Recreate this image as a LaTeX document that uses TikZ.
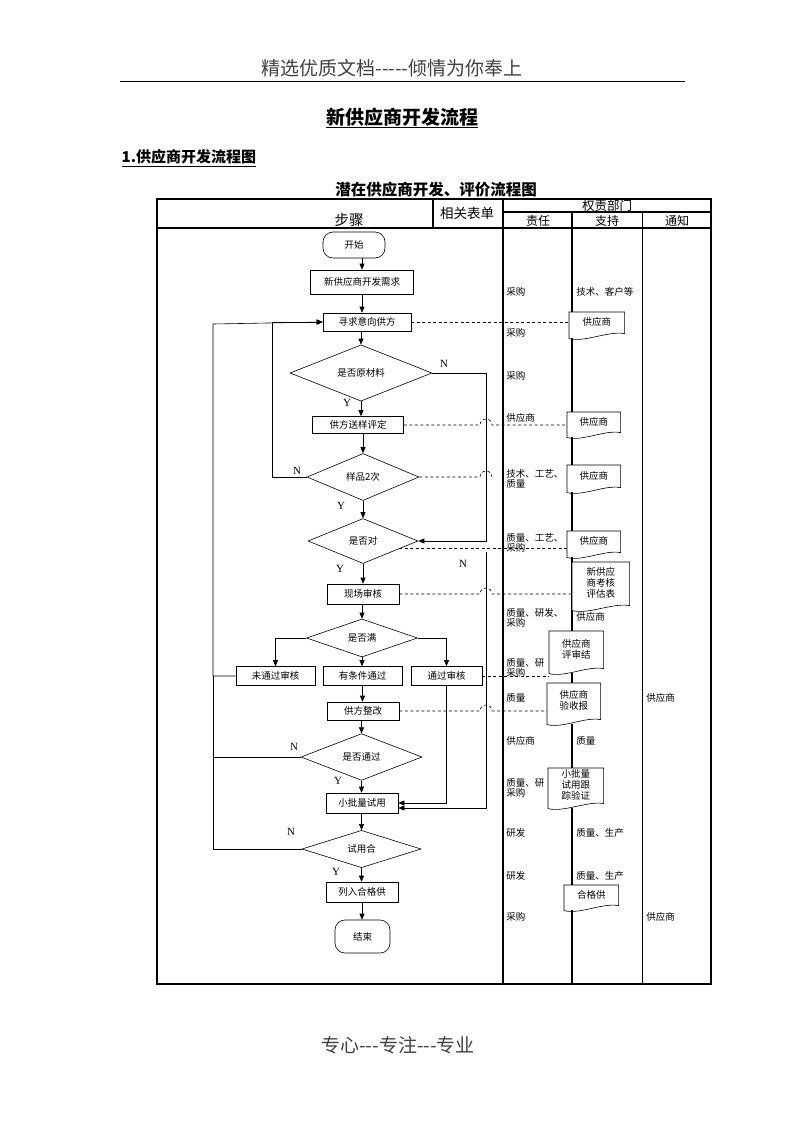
\documentclass[tikz,border=0pt]{standalone}
\usepackage{fontspec}
\setmainfont{Noto Sans CJK SC}
\newfontfamily\ynfont{Liberation Serif}
\usetikzlibrary{shapes.geometric,arrows.meta}

\tikzset{
	frame/.style={line width=1.5pt},
	thin frame/.style={line width=0.8pt},
	box/.style={draw,fill=white,inner sep=0pt,font=\fontsize{9.5}{11}\selectfont},
	decide/.style={draw,diamond,inner sep=0pt,font=\fontsize{9.5}{11}\selectfont},
	term/.style={draw,rounded corners=10pt,inner sep=0pt,font=\fontsize{9.5}{11}\selectfont},
	flow/.style={-{Triangle[length=6pt,width=5pt]}},
	link/.style={dash pattern=on 3pt off 2.5pt},
	yn/.style={inner sep=0pt,font=\ynfont\fontsize{11}{11}\selectfont},
	duty/.style={anchor=west,align=left,inner sep=0pt,font=\fontsize{9.5}{10.5}\selectfont},
	doc/.style={anchor=north west,fill=white,inner sep=0pt},
	doctext/.style={align=center,inner sep=0pt,font=\fontsize{9.5}{11}\selectfont},
	head/.style={inner sep=0pt,font=\fontsize{12.5}{13}\selectfont},
}

% document shape: name, left, top, width, height, text
\newcommand{\docbox}[6]{%
	\node[doc,minimum width=#4pt,minimum height=#5pt] (#1) at (#2,#3) {};
	\draw (#1.south west) -- (#1.north west) -- (#1.north east) -- ([yshift=5pt]#1.south east)
		.. controls +(-0.3*#4,-3) and +(0.3*#4,4) .. (#1.south west);
	\node[doctext] (#1t) at ([yshift=3pt]#1.center) {#6};
}

\begin{document}
\begin{tikzpicture}[x=1pt,y=-1pt,line width=0.6pt]
	\useasboundingbox (0,0) rectangle (793,1122);

	\node[text=darkgray,font=\fontsize{19}{19}\selectfont] (pagehead) at (392,68) {精选优质文档-{}-{}-{}-{}-倾情为你奉上};
	\draw[line width=0.9pt] (120,81) -- (685,81);
	\node[font=\bfseries\fontsize{19}{19}\selectfont] (title) at (402,118) {\underline{新供应商开发流程}};
	\node[anchor=west,font=\bfseries\fontsize{15}{15}\selectfont] (subtitle) at (118,158) {\underline{1.供应商开发流程图}};
	\node[font=\bfseries\fontsize{15.5}{16}\selectfont,inner sep=0pt] (charttitle) at (436,190) {潜在供应商开发、评价流程图};

	% table
	\draw[frame] (157,199) rectangle (711,984);
	\draw[frame] (157,228) -- (711,228);
	\draw[frame] (503,212) -- (711,212);
	\draw[frame] (433,199) -- (433,228);
	\draw[frame] (503,199) -- (503,984);
	\draw[frame] (572,212) -- (572,984);
	\draw[thin frame] (642,212) -- (642,984);
	\node[head,font=\fontsize{14.5}{15}\selectfont] (steps) at (349,220) {步骤};
	\node[head,font=\fontsize{13.5}{14}\selectfont] (forms) at (467,213) {相关表单};
	\node[head] (dept) at (607,205.5) {权责部门};
	\node[head,font=\fontsize{12}{12}\selectfont] (resp) at (538,221) {责任};
	\node[head,font=\fontsize{12}{12}\selectfont] (supp) at (607,221) {支持};
	\node[head,font=\fontsize{12}{12}\selectfont] (info) at (677,221) {通知};

	% departments
	\node[duty] (r1) at (506,292) {采购};
	\node[duty] (r2) at (506,333) {采购};
	\node[duty] (r3) at (506,376) {采购};
	\node[duty] (r4) at (506,418) {供应商};
	\node[duty] (r5) at (506,479) {技术、工艺、\\质量};
	\node[duty] (r6) at (506,543) {质量、工艺、\\采购};
	\node[duty] (r7) at (506,618) {质量、研发、\\采购};
	\node[duty] (r8) at (506,668) {质量、研\\采购};
	\node[duty] (r9) at (506,698) {质量};
	\node[duty] (r10) at (506,741) {供应商};
	\node[duty] (r11) at (506,788) {质量、研\\采购};
	\node[duty] (r12) at (506,833) {研发};
	\node[duty] (r13) at (506,876) {研发};
	\node[duty] (r14) at (506,917) {采购};
	\node[duty] (s1) at (576,292) {技术、客户等};
	\node[duty] (s2) at (576,617) {供应商};
	\node[duty] (s3) at (576,741) {质量};
	\node[duty] (s4) at (576,833) {质量、生产};
	\node[duty] (s5) at (576,876) {质量、生产};
	\node[duty] (n1) at (646,698) {供应商};
	\node[duty] (n2) at (646,917) {供应商};

	% forms
	\docbox{d1}{569}{312}{55}{26}{供应商}
	\docbox{d2}{567}{412}{53}{25}{供应商}
	\docbox{d3}{567}{465}{53}{27}{供应商}
	\docbox{d4}{567}{531}{53}{26}{供应商}
	\docbox{d5}{572}{562}{57}{48}{新供应\\商考核\\评估表}
	\docbox{d6}{549}{631}{54}{42}{供应商\\评审结}
	\docbox{d7}{547}{683}{53}{41}{供应商\\验收报}
	\docbox{d8}{548}{768}{55}{40}{小批量\\试用跟\\踪验证}
	\docbox{d9}{564}{885}{54}{25}{合格供}

	% steps
	\node[term,minimum width=62pt,minimum height=26pt] (start) at (354,245) {开始};
	\node[box,minimum width=103pt,minimum height=24pt] (need) at (362,282) {新供应商开发需求};
	\node[box,minimum width=88pt,minimum height=18pt] (seek) at (367,322) {寻求意向供方};
	\node[decide,minimum width=142pt,minimum height=42pt] (israw) at (361,373) {是否原材料};
	\node[box,minimum width=91pt,minimum height=17pt] (sample) at (358,425) {供方送样评定};
	\node[decide,minimum width=112pt,minimum height=47pt] (twice) at (363,477) {样品2次};
	\node[decide,minimum width=110pt,minimum height=45pt] (right) at (363,541) {是否对};
	\node[box,minimum width=72pt,minimum height=20pt] (site) at (363,594) {现场审核};
	\node[decide,minimum width=111pt,minimum height=38pt] (pass) at (362,638) {是否满};
	\node[box,minimum width=79pt,minimum height=19pt] (fail) at (275.5,676) {未通过审核};
	\node[box,minimum width=79pt,minimum height=19pt] (cond) at (362.5,676) {有条件通过};
	\node[box,minimum width=71pt,minimum height=19pt] (ok) at (446.5,676) {通过审核};
	\node[box,minimum width=72pt,minimum height=18pt] (fix) at (363,711) {供方整改};
	\node[decide,minimum width=121pt,minimum height=38pt] (passed) at (361.5,757) {是否通过};
	\node[box,minimum width=72pt,minimum height=20pt] (trial) at (362,803) {小批量试用};
	\node[decide,minimum width=119pt,minimum height=37pt] (trialok) at (361.5,849) {试用合};
	\node[box,minimum width=72pt,minimum height=20pt] (list) at (362,892) {列入合格供};
	\node[term,minimum width=55pt,minimum height=33pt] (finish) at (362.5,936.5) {结束};

	\coordinate (loopL) at (213,324);
	\coordinate (loopR) at (272,324);
	\coordinate (nline) at (486,373);
	\coordinate (rightN) at (486,552);
	\coordinate (hopx) at (480,0);

	\draw[flow] (start.south -| need) -- (need.north);
	\draw[flow] (need.south) -- (need.south |- seek.north);
	\draw[flow] (seek.south -| israw) -- (israw.north);
	\draw[flow] (israw.south) -- (israw.south |- sample.north);
	\draw[flow] (sample.south -| twice) -- (twice.north);
	\draw[flow] (twice.south) -- (right.north);
	\draw[flow] (israw.east) -- (nline) |- (right.east);
	\draw[flow] (twice.west) -- (twice.west -| loopR) |- (seek.west);
	\draw[flow] (right.south) -- (right.south |- site.north);
	\draw[flow] (site.south -| pass) -- (pass.north);
	\draw[flow] (pass.west) -| (fail.north);
	\draw[flow] (pass.east) -| (ok.north);
	\draw[flow] (pass.south) -- (pass.south |- cond.north);
	\draw[flow] (cond.south) -- (cond.south |- fix.north);
	\draw[flow] (fix.south -| passed) -- (passed.north);
	\draw[flow] (passed.south) -- (passed.south |- trial.north);
	\draw[flow] (ok.south) |- (trial.east);
	\draw[flow] (rightN) |- ([yshift=-5pt]trial.east);
	\draw[flow] (trial.south -| trialok) -- (trialok.north);
	\draw[flow] (trialok.south) -- (trialok.south |- list.north);
	\draw[flow] (list.south) -- (list.south |- finish.north);
	\draw[flow] (fail.west) -| (loopL) -- (seek.west);
	\draw (passed.west) -- (passed.west -| loopL);
	\draw (trialok.west) -| (loopL |- fail.west);

	\draw[link] (seek.east) -- (seek.east -| d1.west);
	\draw[link] (sample.east) -- (sample.east -| hopx) arc[start angle=180,end angle=360,radius=6] -- (sample.east -| d2.west);
	\draw[link] (twice.east) -- (twice.east -| hopx) arc[start angle=180,end angle=360,radius=6];
	\draw[link] (right.-12) -- (right.-12 -| d4.west);
	\draw[link] (site.east) -- (site.east -| hopx) arc[start angle=180,end angle=360,radius=6] -- (site.east -| d5.west);
	\draw[link] (ok.east) -- (ok.east -| d6.west);
	\draw[link] (fix.east) -- (fix.east -| hopx) arc[start angle=180,end angle=360,radius=6] -- (fix.east -| d7.west);

	\node[yn] (n-raw) at (444,364) {N};
	\node[yn] (y-raw) at (347,403) {Y};
	\node[yn] (n-twice) at (297,471) {N};
	\node[yn] (y-twice) at (341,506) {Y};
	\node[yn] (n-right) at (463,564) {N};
	\node[yn] (y-right) at (340,569) {Y};
	\node[yn] (n-passed) at (294,747) {N};
	\node[yn] (y-passed) at (338,781) {Y};
	\node[yn] (n-trial) at (291,832) {N};
	\node[yn] (y-trial) at (336,872) {Y};

	\node[text=darkgray,font=\fontsize{19}{19}\selectfont] (pagefoot) at (398,1045) {专心-{}-{}-专注-{}-{}-专业};
\end{tikzpicture}
\end{document}
